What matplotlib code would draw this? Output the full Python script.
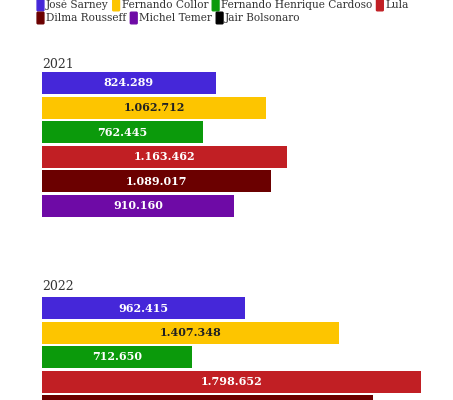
import matplotlib.pyplot as plt
from matplotlib.patches import FancyBboxPatch

presidents = ["José Sarney", "Fernando Collor", "Fernando Henrique Cardoso", "Lula",
              "Dilma Rousseff", "Michel Temer", "Jair Bolsonaro"]
colors = ["#4527d9", "#fdc500", "#0b9a0b", "#c11f24", "#6b0000", "#6e0aa6", "#000000"]
years = ["2021", "2022"]
vals_2021 = [824289, 1062712, 762445, 1163462, 1089017, 910160]
vals_2022 = [962415, 1407348, 712650, 1798652, 1570000]
label_colors = ["white", "#222222", "white", "white", "white", "white"]

W, H = 453, 400
fig = plt.figure(figsize=(W / 100, H / 100), dpi=100)
serif = "DejaVu Serif"

def fmt(v):
    return f"{v:,}".replace(",", ".")

xmax = 1798652
left, width = 42 / W, 379 / W
pitch = 24.5
for year, vals, center0, label_y in [(years[0], vals_2021, 83, 64), (years[1], vals_2022, 308, 287)]:
    nslots = 7
    top = center0 - pitch / 2
    ax = fig.add_axes([left, 1 - (top + nslots * pitch) / H, width, nslots * pitch / H])
    ys = list(range(len(vals)))
    ax.barh(ys, vals, height=22 / pitch, color=colors[:len(vals)])
    for y, v, tc in zip(ys, vals, label_colors):
        ax.text(v / 2, y, fmt(v), ha="center", va="center", color=tc,
                fontsize=8, fontweight="bold", family=serif)
    ax.set_xlim(0, xmax)
    ax.set_ylim(nslots - 0.5, -0.5)
    ax.axis("off")
    fig.text(left, 1 - label_y / H, year, ha="left", va="center", fontsize=9, family=serif, color="#333333")

# legend, two rows
fig.canvas.draw()
r = fig.canvas.get_renderer()
rows = [(presidents[:4], colors[:4], 5), (presidents[4:], colors[4:], 18)]
for names, cols, yp in rows:
    x = 38
    for n, c in zip(names, cols):
        fig.patches.append(FancyBboxPatch(((x) / W, 1 - (yp + 5) / H), 5 / W, 10 / H,
                                          boxstyle="round,pad=0.002", color=c,
                                          transform=fig.transFigure, figure=fig))
        t = fig.text((x + 8) / W, 1 - yp / H, n, ha="left", va="center",
                     fontsize=7.6, family=serif, color="#333333")
        bb = t.get_window_extent(r)
        x = x + 8 + bb.width + 5

fig.savefig("out.png", dpi=100)
